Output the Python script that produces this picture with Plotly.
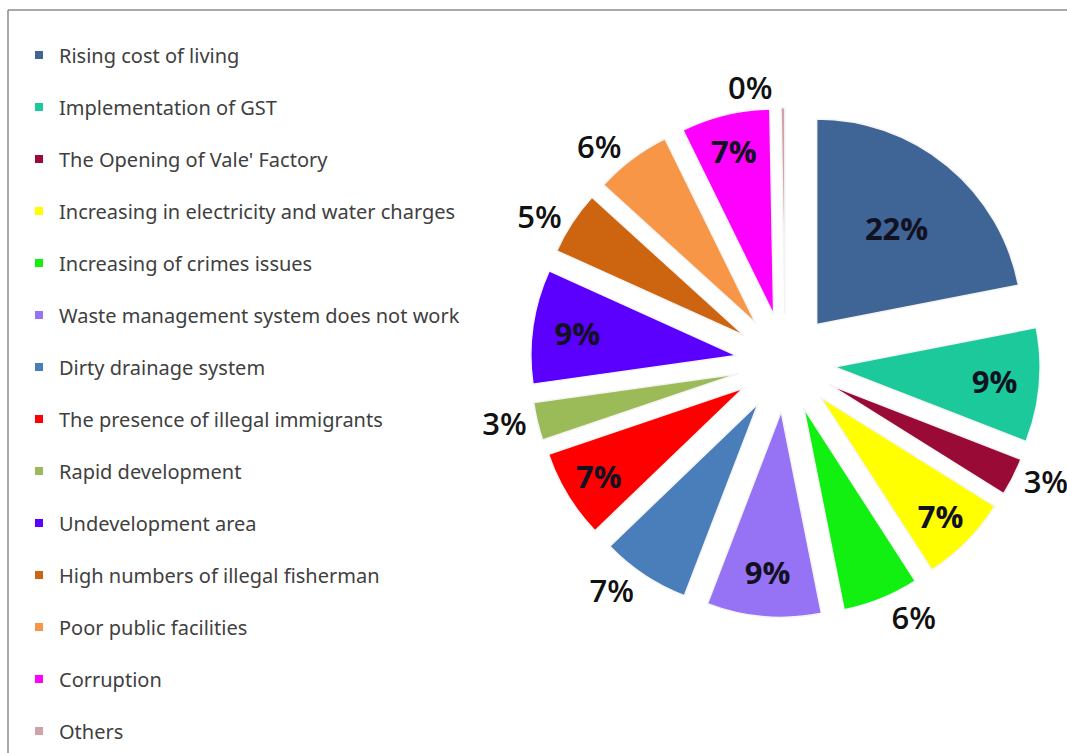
import plotly.graph_objects as go

labels = [
    "Rising cost of living",
    "Implementation of GST",
    "The Opening of Vale' Factory",
    "Increasing in electricity and water charges",
    "Increasing of crimes issues",
    "Waste management system does not work",
    "Dirty drainage system",
    "The presence of illegal immigrants",
    "Rapid development",
    "Undevelopment area",
    "High numbers of illegal fisherman",
    "Poor public facilities",
    "Corruption",
    "Others",
]
values = [22, 9, 3, 7, 6, 9, 7, 7, 3, 9, 5, 6, 7, 0.3]
colors = [
    "#3F6496", "#1CC99A", "#990A36", "#FFFF00", "#11F011", "#9673F5",
    "#4A7EBB", "#FF0000", "#9BBB59", "#5B00FF", "#CC6410", "#F79646",
    "#FF00FF", "#CFA3A8",
]
text_positions = [
    "inside", "inside", "outside", "inside", "outside", "inside", "outside",
    "inside", "outside", "inside", "outside", "outside", "inside", "outside",
]

fig = go.Figure()

fig.add_trace(go.Pie(
    labels=labels,
    values=values,
    sort=False,
    direction="clockwise",
    rotation=0,
    pull=[0.24] * len(values),
    marker=dict(colors=colors, line=dict(color="#F4F4F4", width=1.5)),
    texttemplate="%{percent:.0%}",
    textposition=text_positions,
    insidetextorientation="horizontal",
    insidetextfont=dict(family="Open Sans", size=31, color="#111122", weight="bold"),
    outsidetextfont=dict(family="Open Sans", size=31, color="#111111", weight=600),
    showlegend=False,
    domain=dict(x=[0.497, 0.975], y=[0.180, 0.857]),
    hoverinfo="label+percent",
))

# legend entries (one per category) so spacing can match the reference
for i, (lab, col) in enumerate(zip(labels, colors)):
    fig.add_trace(go.Scatter(
        x=[None], y=[None], mode="markers", name=lab,
        marker=dict(symbol="square", size=8, color=col),
        legendgroup=str(i), showlegend=True,
    ))

fig.update_layout(
    width=1067, height=753,
    paper_bgcolor="white", plot_bgcolor="white",
    margin=dict(l=0, r=0, t=0, b=0, autoexpand=False),
    xaxis=dict(visible=False), yaxis=dict(visible=False),
    uniformtext=dict(minsize=31, mode="show"),
    legend=dict(
        xref="paper", yref="paper",
        x=0.0178, y=0.953, xanchor="left", yanchor="top",
        font=dict(family="Noto Sans", size=20, color="#404040"),
        tracegroupgap=23, itemwidth=30,
        bgcolor="rgba(0,0,0,0)",
    ),
    shapes=[
        dict(type="line", xref="paper", yref="paper", x0=0.0075, x1=1.0, y0=0.9867, y1=0.9867,
             line=dict(color="#8C8C8C", width=1.5)),
        dict(type="line", xref="paper", yref="paper", x0=0.0075, x1=0.0075, y0=0.0, y1=0.9867,
             line=dict(color="#8C8C8C", width=1.5)),
    ],
)

fig.write_html("out.html")
